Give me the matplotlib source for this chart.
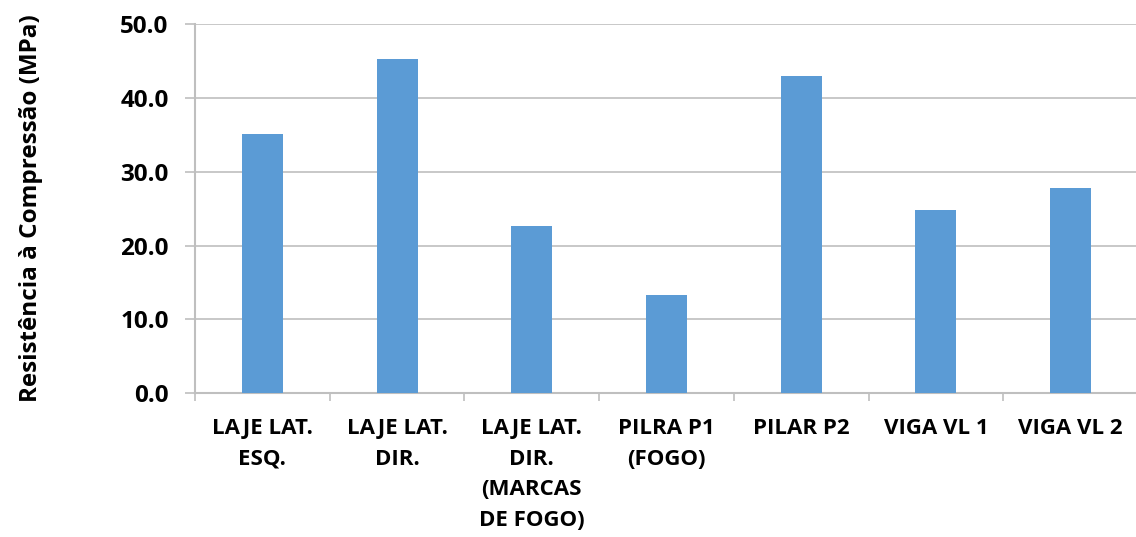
import matplotlib
matplotlib.use('Agg')
import numpy as np
import matplotlib.pyplot as plt
from matplotlib.ticker import FixedLocator

# dados
categorias = ['LAJE LAT.\nESQ.', 'LAJE LAT.\nDIR.', 'LAJE LAT.\nDIR.\n(MARCAS\nDE FOGO)',
              'PILRA P1\n(FOGO)', 'PILAR P2', 'VIGA VL 1', 'VIGA VL 2']
resistencia = [35.1, 45.3, 22.6, 13.3, 43.0, 24.8, 27.8]
yticks = [0, 10, 20, 30, 40, 50]

plt.rcParams['font.family'] = ['Open Sans', 'DejaVu Sans']
plt.rcParams['font.weight'] = 'bold'

fig = plt.figure(figsize=(11.36, 5.37), dpi=100)
ax = fig.add_axes([0.1717, 0.268, 0.83, 0.687])

x = np.arange(len(categorias))
ax.bar(x, resistencia, width=0.305, color='#5B9BD5', zorder=3)

ax.set_xlim(-0.5, len(categorias) - 0.5)
ax.set_ylim(0, 50)
ax.set_yticks(yticks)
ax.set_yticklabels([f'{v:.1f}' for v in yticks], fontsize=17.5, fontweight='bold')
ax.yaxis.grid(True, color='#BFBFBF', linewidth=1.2, zorder=0)

ax.set_xticks(x)
ax.set_xticklabels(categorias, fontsize=16, fontweight='bold', linespacing=1.6, va='top')
ax.xaxis.set_minor_locator(FixedLocator(np.arange(len(categorias) + 1) - 0.5))
ax.tick_params(axis='x', which='major', length=0, pad=18)
ax.tick_params(axis='x', which='minor', length=6, color='#BFBFBF', width=1.2)
ax.tick_params(axis='y', length=7, color='#BFBFBF', width=1.2, pad=12)

for s in ['top', 'right']:
    ax.spines[s].set_visible(False)
for s in ['left', 'bottom']:
    ax.spines[s].set_color('#BFBFBF')
    ax.spines[s].set_linewidth(1.5)

ax.set_ylabel('Resistência à Compressão (MPa)', fontsize=17.5, fontweight='bold')
ax.yaxis.set_label_coords(-0.161, 0.5)

fig.savefig('out.png', dpi=100)
